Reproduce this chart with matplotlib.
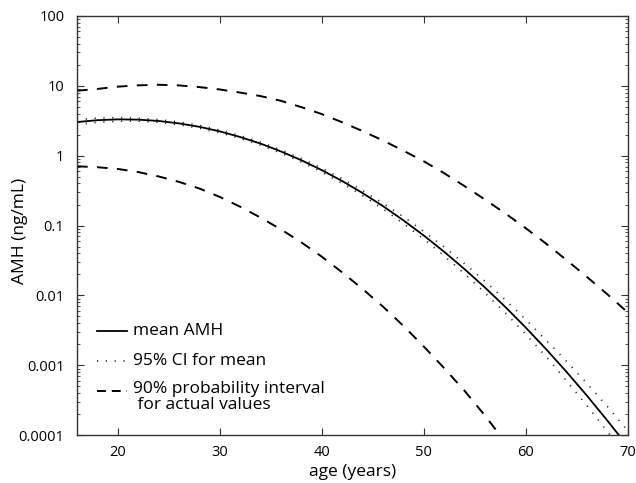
import numpy as np
import matplotlib
matplotlib.use("Agg")
import matplotlib.pyplot as plt
from matplotlib import ticker

plt.rcParams['font.family'] = ['Open Sans', 'DejaVu Sans']

# age grid (years)
ages = [16, 18, 20, 22, 24, 26, 28, 30, 32, 34, 36, 38, 40, 42,
        44, 46, 48, 50, 52, 54, 56, 58, 60, 62, 64, 66, 68, 70]

# AMH (ng/mL)
mean_amh = [3.03, 3.22, 3.31, 3.28, 3.14, 2.90, 2.59, 2.23, 1.85, 1.49,
            1.15, 0.861, 0.622, 0.434, 0.292, 0.190, 0.119, 0.0721, 0.0422,
            0.0238, 0.0130, 0.00683, 0.00347, 0.00170, 0.000805, 0.000368,
            0.000162, 0.0000692]
ci_upper = [3.28, 3.45, 3.51, 3.43, 3.29, 3.04, 2.71, 2.33, 1.94, 1.56,
            1.21, 0.912, 0.664, 0.467, 0.317, 0.209, 0.134, 0.0824, 0.0494,
            0.0285, 0.0160, 0.00864, 0.00452, 0.00228, 0.00114, 0.000551,
            0.000257, 0.000116]
ci_lower = [2.80, 3.00, 3.12, 3.13, 3.00, 2.77, 2.47, 2.13, 1.77, 1.42,
            1.09, 0.813, 0.583, 0.403, 0.269, 0.173, 0.107, 0.0642, 0.0369,
            0.0204, 0.0109, 0.00563, 0.00279, 0.00133, 0.000600, 0.000265,
            0.000113, 0.0000470]
pi_upper = [8.51, 9.02, 9.73, 10.16, 10.35, 10.14, 9.59, 8.87, 8.00, 7.13,
            6.10, 4.95, 3.94, 3.01, 2.25, 1.65, 1.18, 0.832, 0.562, 0.367,
            0.236, 0.149, 0.0918, 0.0550, 0.0321, 0.0184, 0.0104, 0.00571]
# lower limit drops out of the plotted range after 58
pi_lower = [0.705, 0.684, 0.646, 0.583, 0.505, 0.422, 0.339, 0.257, 0.186,
            0.130, 0.0881, 0.0575, 0.0359, 0.0214, 0.0124, 0.00692, 0.00367,
            0.00186, 0.000912, 0.000432, 0.000191, 0.0000794]

solid = dict(color='black', lw=1.3)
dotted = dict(color='#222222', lw=1.2, linestyle=(0, (0.7, 4.6)))
dashed = dict(color='black', lw=1.4, linestyle=(0, (5.5, 4.8)))

fig = plt.figure(figsize=(6.36, 4.83), dpi=100)
ax = fig.add_axes([0.121, 0.099, 0.866, 0.868])

ax.plot(ages, mean_amh, **solid)
ax.plot(ages, ci_upper, **dotted)
ax.plot(ages, ci_lower, **dotted)
ax.plot(ages, pi_upper, **dashed)
ax.plot(ages[:len(pi_lower)], pi_lower, **dashed)

ax.set_yscale('log')
ax.set_xlim(16, 70)
ax.set_ylim(1e-4, 100)
ax.set_xticks([20, 30, 40, 50, 60, 70])
ax.yaxis.set_major_locator(ticker.LogLocator(base=10, numticks=10))
ax.yaxis.set_minor_locator(ticker.LogLocator(base=10, subs=np.arange(2, 10), numticks=10))
ax.yaxis.set_major_formatter(ticker.FuncFormatter(lambda v, _: f'{v:g}'))
ax.yaxis.set_minor_formatter(ticker.NullFormatter())

ax.tick_params(which='both', direction='in', top=True, right=True,
               labelsize=10.5, color='#333333')
ax.tick_params(which='major', length=5, width=0.8)
ax.tick_params(which='minor', length=2.5, width=0.6)
ax.tick_params(axis='x', pad=7)
ax.tick_params(axis='y', pad=9)
for s in ax.spines.values():
    s.set_linewidth(1.0)
    s.set_color('#333333')

ax.set_xlabel('age (years)', fontsize=12.5, labelpad=3)
ax.set_ylabel('AMH (ng/mL)', fontsize=12.5)
ax.yaxis.set_label_coords(-0.088, 0.486)

# legend drawn by hand so the two-line entry keeps its key on the first line
key_dashed = dict(dashed, linestyle=(0, (4.6, 3.0)))
key_x = [0.036, 0.091]
text_x = 0.102
rows = [(0.248, 'mean AMH', solid),
        (0.176, '95% CI for mean', dotted),
        (0.105, '90% probability interval\n for actual values', key_dashed)]
for y, label, style in rows:
    ax.plot(key_x, [y, y], transform=ax.transAxes, clip_on=False, **style)
    if '\n' in label:
        ax.text(text_x, y + 0.024, label, transform=ax.transAxes,
                fontsize=12.5, va='top', ha='left', linespacing=0.95)
    else:
        ax.text(text_x, y, label, transform=ax.transAxes, fontsize=12.5,
                va='center', ha='left')

fig.savefig('out.png', dpi=100)
